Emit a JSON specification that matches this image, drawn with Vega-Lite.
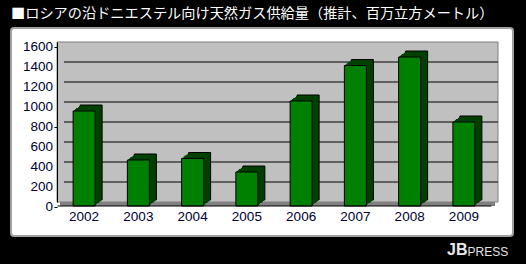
{
  "$schema": "https://vega.github.io/schema/vega-lite/v6.json",
  "width": 434,
  "height": 160,
  "autosize": {"type": "none"},
  "padding": {"left": 64, "top": 42, "right": 28, "bottom": 62},
  "background": "#000000",
  "view": {"stroke": null},
  "config": {
    "axis": {"zindex": 1, "labelOverlap": false}
  },
  "title": {
    "text": "■ロシアの沿ドニエステル向け天然ガス供給量（推計、百万立方メートル）",
    "anchor": "start",
    "frame": "group",
    "dx": -53,
    "offset": 6,
    "color": "#ffffff",
    "font": "Noto Sans CJK JP",
    "fontSize": 14.2,
    "fontWeight": "normal"
  },
  "resolve": {"scale": {"x": "independent"}},
  "datasets": {
    "supply": [
      {"year": "2002", "value": 950},
      {"year": "2003", "value": 460},
      {"year": "2004", "value": 475},
      {"year": "2005", "value": 340},
      {"year": "2006", "value": 1050},
      {"year": "2007", "value": 1405},
      {"year": "2008", "value": 1490},
      {"year": "2009", "value": 840}
    ],
    "grid": [
      {"tick": 200}, {"tick": 400}, {"tick": 600}, {"tick": 800},
      {"tick": 1000}, {"tick": 1200}, {"tick": 1400}
    ],
    "labels": [
      {"tick": 0}, {"tick": 200}, {"tick": 400}, {"tick": 600}, {"tick": 800},
      {"tick": 1000}, {"tick": 1200}, {"tick": 1400}, {"tick": 1600}
    ],
    "one": [{"part": "panel"}]
  },
  "layer": [
    {
      "data": {"name": "one"},
      "mark": {"type": "rect", "fill": "#ffffff", "stroke": "#a0a0a0", "strokeWidth": 2, "cornerRadius": 3, "xOffset": -53, "x2Offset": 15, "yOffset": 34, "y2Offset": -14},
      "encoding": {
        "x": {"datum": 0, "type": "quantitative", "axis": null, "scale": {"domain": [0, 1], "nice": false, "zero": false}},
        "x2": {"datum": 1},
        "y": {
          "datum": 0, "type": "quantitative",
          "scale": {"domain": [0, 1600], "nice": false},
          "axis": {
            "orient": "left",
            "zindex": 1,
            "offset": 7,
            "labels": false,
            "tickOffset": 5,
            "values": [0, 200, 400, 600, 800, 1000, 1200, 1400, 1600],
            "grid": false,
            "ticks": true,
            "tickSize": 3,
            "tickColor": "#000000",
            "domainColor": "#000000",
            "title": "PRESS",
            "titleAngle": 0,
            "titleX": 410,
            "titleY": 213,
            "titleAlign": "left",
            "titleBaseline": "alphabetic",
            "titleFont": "Liberation Sans",
            "titleFontSize": 12,
            "titleFontWeight": "normal",
            "titleColor": "#e0e0e0"
          }
        },
        "y2": {"datum": 1600}
      }
    },
    {
      "data": {"name": "labels"},
      "mark": {"type": "text", "align": "right", "baseline": "middle", "xOffset": -11, "yOffset": 5, "font": "Liberation Sans", "fontSize": 13.5, "color": "#000030"},
      "encoding": {
        "x": {"datum": 0, "type": "quantitative", "axis": null, "scale": {"domain": [0, 1], "nice": false, "zero": false}},
        "y": {"field": "tick", "type": "quantitative"},
        "text": {"field": "tick", "type": "quantitative", "format": "d"}
      }
    },
    {
      "data": {"name": "one"},
      "mark": {"type": "rect", "fill": "#c0c0c0", "stroke": "#808080", "strokeWidth": 1, "xOffset": -7, "x2Offset": 0},
      "encoding": {
        "x": {"datum": 0, "type": "quantitative", "axis": null, "scale": {"domain": [0, 1], "nice": false, "zero": false}},
        "x2": {"datum": 1},
        "y": {"datum": 0, "type": "quantitative"},
        "y2": {"datum": 1600}
      }
    },
    {
      "data": {"name": "one"},
      "mark": {"type": "rect", "fill": "#808080", "xOffset": -4, "x2Offset": -3, "yOffset": 0, "y2Offset": 4},
      "encoding": {
        "x": {"datum": 0, "type": "quantitative", "axis": null, "scale": {"domain": [0, 1], "nice": false, "zero": false}},
        "x2": {"datum": 1},
        "y": {"datum": 0, "type": "quantitative"},
        "y2": {"datum": 0}
      }
    },
    {
      "data": {"name": "grid"},
      "mark": {"type": "rule", "color": "#000000", "strokeWidth": 1},
      "encoding": {
        "y": {"field": "tick", "type": "quantitative"}
      }
    },
    {
      "data": {"name": "supply"},
      "mark": {"type": "bar", "fill": "#004000", "stroke": "#000000", "strokeWidth": 1, "xOffset": 0, "x2Offset": 0, "yOffset": -2, "y2Offset": -2},
      "encoding": {
        "x": {"field": "year", "type": "nominal", "axis": null, "scale": {"paddingInner": 0.5945, "paddingOuter": 0.297}},
        "y": {"field": "value", "type": "quantitative"}
      }
    },
    {
      "data": {"name": "supply"},
      "mark": {"type": "bar", "fill": "#004000", "xOffset": -1, "x2Offset": -1, "yOffset": -1, "y2Offset": -1},
      "encoding": {
        "x": {"field": "year", "type": "nominal", "axis": null, "scale": {"paddingInner": 0.5945, "paddingOuter": 0.297}},
        "y": {"field": "value", "type": "quantitative"}
      }
    },
    {
      "data": {"name": "supply"},
      "mark": {"type": "bar", "fill": "#004000", "xOffset": -2, "x2Offset": -2, "yOffset": 0, "y2Offset": 0},
      "encoding": {
        "x": {"field": "year", "type": "nominal", "axis": null, "scale": {"paddingInner": 0.5945, "paddingOuter": 0.297}},
        "y": {"field": "value", "type": "quantitative"}
      }
    },
    {
      "data": {"name": "supply"},
      "mark": {"type": "bar", "fill": "#004000", "xOffset": -3, "x2Offset": -3, "yOffset": 1, "y2Offset": 1},
      "encoding": {
        "x": {"field": "year", "type": "nominal", "axis": null, "scale": {"paddingInner": 0.5945, "paddingOuter": 0.297}},
        "y": {"field": "value", "type": "quantitative"}
      }
    },
    {
      "data": {"name": "supply"},
      "mark": {"type": "bar", "fill": "#004000", "xOffset": -4, "x2Offset": -4, "yOffset": 1, "y2Offset": 1},
      "encoding": {
        "x": {"field": "year", "type": "nominal", "axis": null, "scale": {"paddingInner": 0.5945, "paddingOuter": 0.297}},
        "y": {"field": "value", "type": "quantitative"}
      }
    },
    {
      "data": {"name": "supply"},
      "mark": {"type": "bar", "fill": "#004000", "xOffset": -5, "x2Offset": -5, "yOffset": 2, "y2Offset": 2},
      "encoding": {
        "x": {"field": "year", "type": "nominal", "axis": null, "scale": {"paddingInner": 0.5945, "paddingOuter": 0.297}},
        "y": {"field": "value", "type": "quantitative"}
      }
    },
    {
      "data": {"name": "supply"},
      "mark": {"type": "bar", "fill": "#004000", "xOffset": -6, "x2Offset": -6, "yOffset": 3, "y2Offset": 3},
      "encoding": {
        "x": {"field": "year", "type": "nominal", "axis": null, "scale": {"paddingInner": 0.5945, "paddingOuter": 0.297}},
        "y": {"field": "value", "type": "quantitative"}
      }
    },
    {
      "data": {"name": "supply"},
      "mark": {"type": "bar", "fill": "#008000", "stroke": "#000000", "strokeWidth": 1, "xOffset": -7, "x2Offset": -7, "yOffset": 4, "y2Offset": 4},
      "encoding": {
        "x": {
          "field": "year", "type": "nominal",
          "scale": {"paddingInner": 0.5945, "paddingOuter": 0.297},
          "axis": {
            "orient": "bottom",
            "zindex": 1,
            "translate": -6.5,
            "offset": 10.5,
            "ticks": false,
            "tickSize": 0,
            "labelPadding": 4,
            "labelAngle": 0,
            "labelFont": "Liberation Sans",
            "labelFontSize": 13.5,
            "labelColor": "#000030",
            "domainColor": "#000000",
            "domainWidth": 1,
            "grid": false,
            "title": "JB",
            "titleX": 389.5,
            "titleY": 49,
            "titleAlign": "left",
            "titleBaseline": "alphabetic",
            "titleFont": "Liberation Sans",
            "titleFontSize": 16,
            "titleFontWeight": "bold",
            "titleColor": "#e8e8e8"
          }
        },
        "y": {"field": "value", "type": "quantitative"}
      }
    }
  ]
}
